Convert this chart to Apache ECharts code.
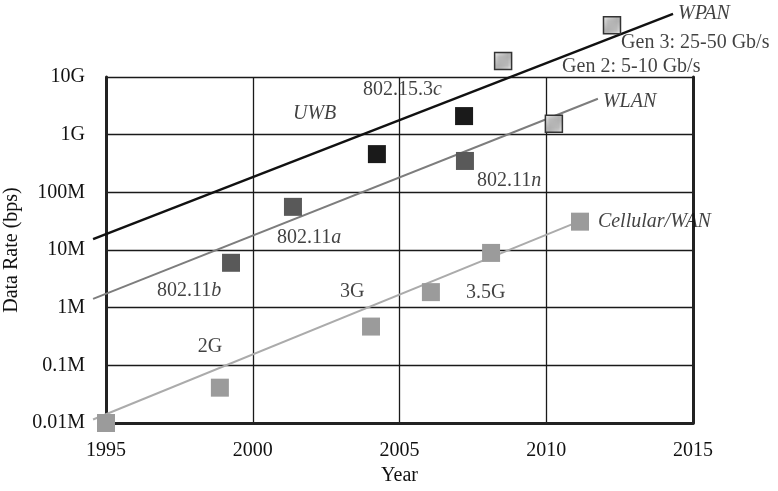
<!DOCTYPE html>
<html>
<head>
<meta charset="utf-8">
<script src="https://cdn.jsdelivr.net/npm/echarts@6/dist/echarts.min.js"></script>
<style>
  html, body { margin: 0; padding: 0; background: #fff; }
  #chart { width: 778px; height: 491px; }
</style>
</head>
<body>
<div id="chart"></div>
<script>
// Data rate trends: WPAN / WLAN / Cellular (log scale)
const yTickLabels = { 4: '0.01M', 5: '0.1M', 6: '1M', 7: '10M', 8: '100M', 9: '1G', 10: '10G' };

// trend lines [year, bps]
const wpanLine = [[1994.56, 1.55e7], [2014.32, 1.24e11]];
const wlanLine = [[1994.56, 1.42e6], [2011.76, 4.2e9]];
const cellLine = [[1994.56, 1.15e4], [2011.1, 3.1e7]];

// data points
const cellPoints = [[1995, 1e4], [1998.88, 4.1e4], [2004.03, 4.7e5], [2006.07, 1.86e6], [2008.12, 8.9e6], [2011.15, 3.1e7]];
const wlanPoints = [[1999.26, 6e6], [2001.37, 5.6e7], [2007.23, 3.5e8]];
const wpanPoints = [[2004.23, 4.6e8], [2007.2, 2.1e9]];
const futurePoints = [[2010.26, 1.55e9], [2008.53, 1.9e10], [2012.24, 7.9e10]];

// annotations [year, bps, text]
const notes = [
  [2014.49, 1.23e11, '{i|WPAN}'],
  [2012.55, 3.9e10, 'Gen 3: 25-50 Gb/s'],
  [2010.54, 1.5e10, 'Gen 2: 5-10 Gb/s'],
  [2003.76, 5.9e9, '802.15.3{i|c}'],
  [2001.37, 2.3e9, '{i|UWB}'],
  [2011.93, 3.7e9, '{i|WLAN}'],
  [2007.64, 1.6e8, '802.11{i|n}'],
  [2000.83, 1.6e7, '802.11{i|a}'],
  [1996.74, 2.0e6, '802.11{i|b}'],
  [2002.97, 1.9e6, '3G'],
  [1998.13, 2.1e5, '2G'],
  [2007.27, 1.8e6, '3.5G'],
  [2011.76, 3.1e7, '{i|Cellular/WAN}']
];

const FONT = '"Liberation Serif", "DejaVu Serif", serif';
const FS = 20;

// hatched fill for the future points
const hatch = document.createElement('canvas');
hatch.width = 7; hatch.height = 7;
(function() {
  const c = hatch.getContext('2d');
  c.fillStyle = '#fff';
  c.fillRect(0, 0, 7, 7);
  c.strokeStyle = '#b0b0b0';
  c.lineWidth = 2;
  c.beginPath();
  c.moveTo(0, 7); c.lineTo(7, 0);
  c.moveTo(-3.5, 3.5); c.lineTo(3.5, -3.5);
  c.moveTo(3.5, 10.5); c.lineTo(10.5, 3.5);
  c.stroke();
})();

// trend lines live on a second, slightly wider grid so they can run left of 1995
const lineSeries = (name, data, color, width) => ({
  name: name,
  type: 'line',
  xAxisIndex: 1,
  yAxisIndex: 2,
  data: data,
  symbol: 'none',
  clip: false,
  silent: true,
  lineStyle: { color: color, width: width },
  z: 3
});

const pointSeries = (name, data, itemStyle, size) => ({
  name: name,
  type: 'scatter',
  data: data,
  symbol: 'rect',
  symbolSize: size,
  clip: false,
  itemStyle: Object.assign({ opacity: 1 }, itemStyle),
  z: 4
});

const option = {
  animation: false,
  backgroundColor: '#fff',
  textStyle: { fontFamily: FONT },
  grid: [
    { left: 106, right: 85, top: 77, bottom: 68, containLabel: false, outerBoundsMode: 'none' },
    { left: 93, right: 85, top: 77, bottom: 68, containLabel: false, outerBoundsMode: 'none' }
  ],
  xAxis: [
    {
      type: 'value',
      min: 1995,
      max: 2015,
      interval: 5,
      name: 'Year',
      nameLocation: 'middle',
      nameGap: 36,
      nameTextStyle: { fontFamily: FONT, fontSize: FS, color: '#111' },
      axisLine: { show: true, lineStyle: { color: '#222', width: 3 } },
      axisTick: { show: false },
      axisLabel: { fontFamily: FONT, fontSize: FS, color: '#111', margin: 18, formatter: (v) => String(v) },
      splitLine: { show: true, lineStyle: { color: '#1a1a1a', width: 1.3 } }
    },
    {
      gridIndex: 1,
      type: 'value',
      min: 1995 - 13 / 29.35,
      max: 2015,
      show: false
    }
  ],
  yAxis: [
    {
      type: 'log',
      logBase: 10,
      min: 1e4,
      max: 1e10,
      name: 'Data Rate (bps)',
      nameLocation: 'middle',
      nameGap: 78,
      nameTextStyle: { fontFamily: FONT, fontSize: FS, color: '#111' },
      axisLine: { show: true, lineStyle: { color: '#222', width: 3 } },
      axisTick: { show: false },
      axisLabel: {
        fontFamily: FONT, fontSize: FS, color: '#111', margin: 21,
        formatter: (v) => yTickLabels[Math.round(Math.log10(v))] || ''
      },
      splitLine: { show: true, lineStyle: { color: '#1a1a1a', width: 1.3 } }
    },
    {
      type: 'log',
      logBase: 10,
      min: 1e4,
      max: 1e10,
      position: 'right',
      axisLine: { show: true, lineStyle: { color: '#222', width: 3 } },
      axisTick: { show: false },
      axisLabel: { show: false },
      splitLine: { show: false }
    },
    {
      gridIndex: 1,
      type: 'log',
      logBase: 10,
      min: 1e4,
      max: 1e10,
      show: false
    }
  ],
  series: [
    lineSeries('WPAN', wpanLine, '#111', 2.4),
    lineSeries('WLAN', wlanLine, '#7d7d7d', 2),
    lineSeries('Cellular/WAN', cellLine, '#ababab', 2),
    pointSeries('Cellular points', cellPoints, { color: '#9b9b9b' }, 18),
    pointSeries('WLAN points', wlanPoints, { color: '#595959' }, 18),
    pointSeries('WPAN points', wpanPoints, { color: '#1a1a1a' }, 18),
    pointSeries('Future points', futurePoints,
      { color: { image: hatch, repeat: 'repeat' }, borderColor: '#333', borderWidth: 1.5 }, 17),
    {
      name: 'notes',
      type: 'scatter',
      data: notes,
      symbolSize: 0,
      clip: false,
      silent: true,
      z: 5,
      label: {
        show: true,
        position: 'right',
        distance: 0,
        formatter: (p) => p.value[2],
        fontFamily: FONT,
        fontSize: FS,
        color: '#111',
        rich: {
          i: { fontFamily: FONT, fontSize: FS, fontStyle: 'italic', color: '#111' }
        }
      }
    }
  ]
};

const chart = echarts.init(document.getElementById('chart'));
chart.setOption(option);
window.addEventListener('resize', () => chart.resize());
</script>
</body>
</html>
